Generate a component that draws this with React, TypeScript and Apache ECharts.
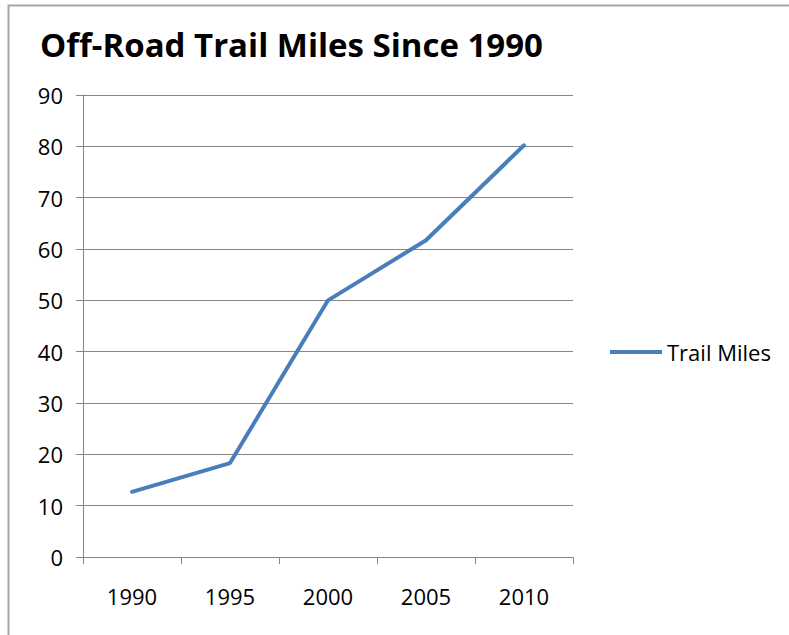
import React, { useEffect, useRef } from "react";
import * as echarts from "echarts";

const years = ["1990", "1995", "2000", "2005", "2010"];
const trailMiles = [12.7, 18.3, 50, 61.7, 80.2];
const seriesName = "Trail Miles";
const titleText = "Off-Road Trail Miles Since 1990";

export default function App() {
  const ref = useRef<HTMLDivElement>(null);
  useEffect(() => {
    const chart = echarts.init(ref.current!, null, { renderer: "svg" });
    chart.setOption({
      animation: false,
      backgroundColor: "#ffffff",
      title: {
        text: titleText,
        left: 35,
        top: 23,
        textStyle: {
          fontFamily: "Open Sans",
          fontWeight: "bold",
          fontSize: 33,
          color: "#000000",
        },
      },
      graphic: [
        {
          type: "rect",
          shape: { x: 8.5, y: 5.5, width: 900, height: 800 },
          style: { fill: "none", stroke: "#a6a6a6", lineWidth: 2 },
          silent: true,
        },
      ],
      legend: {
        orient: "vertical",
        left: 605,
        top: 336,
        itemWidth: 52,
        itemHeight: 4,
        itemGap: 6,
        textStyle: {
          fontFamily: "Open Sans",
          fontSize: 22,
          color: "#000000",
        },
        data: [{ name: seriesName, icon: "rect" }],
      },
      grid: { left: 83, right: 216, top: 95, bottom: 78, containLabel: false },
      xAxis: {
        type: "category",
        data: years,
        boundaryGap: true,
        axisLine: { show: true, lineStyle: { color: "#868686", width: 1 } },
        axisTick: { show: true, length: 7, inside: false, alignWithLabel: false, lineStyle: { color: "#868686" } },
        axisLabel: {
          margin: 28,
          fontFamily: "Open Sans",
          fontSize: 22,
          color: "#000000",
        },
        splitLine: { show: false },
      },
      yAxis: {
        type: "value",
        min: 0,
        max: 90,
        interval: 10,
        axisLine: { show: true, lineStyle: { color: "#868686", width: 1 } },
        axisTick: { show: true, length: 7, inside: false, lineStyle: { color: "#868686" } },
        axisLabel: {
          margin: 20,
          fontFamily: "Open Sans",
          fontSize: 22,
          color: "#000000",
        },
        splitLine: { show: true, lineStyle: { color: "#868686", width: 1 } },
      },
      series: [
        {
          name: seriesName,
          type: "line",
          data: trailMiles,
          showSymbol: false,
          symbol: "none",
          lineStyle: { color: "#4A7EBB", width: 4, cap: "round", join: "round" },
          itemStyle: { color: "#4A7EBB" },
        },
      ],
    });
    return () => chart.dispose();
  }, []);
  return (
    <div
      ref={ref}
      style={{ position: "absolute", left: 0, top: 0, width: 789, height: 635 }}
    />
  );
}
